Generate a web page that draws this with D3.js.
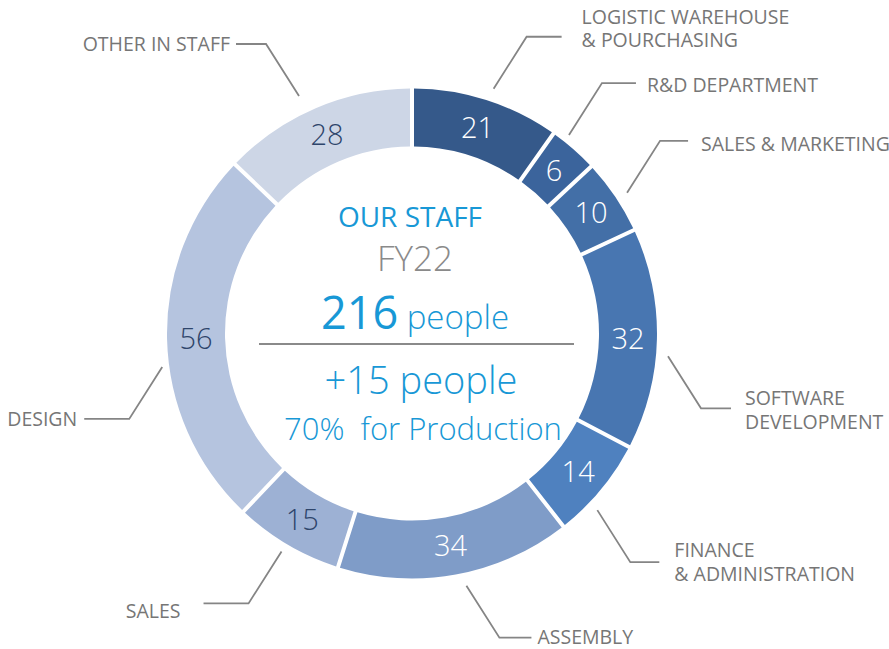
<!DOCTYPE html>
<html>
<head>
<meta charset="utf-8">
<script src="https://cdn.jsdelivr.net/npm/d3@7"></script>
<style>
  body { margin: 0; background: #fff; }
  svg text { font-family: "Open Sans", "Noto Sans", sans-serif; }
</style>
</head>
<body>
<svg id="chart" width="889" height="649"></svg>
<script>
// Staff by department, FY22 (clockwise from 12 o'clock)
var departments = [
  ["LOGISTIC WAREHOUSE", "& POURCHASING"],
  ["R&D DEPARTMENT"],
  ["SALES & MARKETING"],
  ["SOFTWARE", "DEVELOPMENT"],
  ["FINANCE", "& ADMINISTRATION"],
  ["ASSEMBLY"],
  ["SALES"],
  ["DESIGN"],
  ["OTHER IN STAFF"]
];
var headcount = [21, 6, 10, 32, 14, 34, 15, 56, 28];

var sliceColors = ["#35598a", "#3b649c", "#436fa7", "#4876b1", "#4f81bf",
                   "#7f9cc8", "#9db1d4", "#b5c4df", "#cdd6e6"];
var valueColors = ["#fff", "#fff", "#fff", "#fff", "#fff", "#fff",
                   "#2e456b", "#2e456b", "#2e456b"];

// leader tweaks: angle nudge (deg), start radius, horizontal run, text gap, baseline offset of 1st line
var leaderLayout = [
  {nudge: 0.8,  r: 258, run: 35, gap: 20, dy: -13},
  {nudge: -2.8, r: 253, run: 34, gap: 11, dy: 9},
  {nudge: 0.8,  r: 257, run: 28, gap: 13, dy: 10},
  {nudge: 3.8,  r: 257, run: 30, gap: 14, dy: -3},
  {nudge: 3.9,  r: 256, run: 29, gap: 15, dy: -5},
  {nudge: -1.9, r: 258, run: 32, gap: 6,  dy: 6},
  {nudge: 0.4,  r: 254, run: 45, gap: 23, dy: 15},
  {nudge: -6.2, r: 252, run: 45, gap: 7,  dy: 7},
  {nudge: -2.3, r: 263, run: 30, gap: 6,  dy: 7}
];

var cx = 412, cy = 333.5
var outerR = 245, innerR = 187

var svg = d3.select("#chart")
var g = svg.append("g").attr("transform", "translate(" + cx + "," + cy + ")")

var pie = d3.pie().sort(null).padAngle(0.04)
var arc = d3.arc().innerRadius(innerR).outerRadius(outerR).padRadius(100)

var slices = pie(headcount)

g.selectAll(".slice")
    .data(slices)
    .enter().append("path")
      .attr("class", "slice")
      .attr("d", arc)
      .attr("fill", function(d, i) { return sliceColors[i] })

g.selectAll(".value")
    .data(slices)
    .enter().append("text")
      .attr("class", "value")
      .attr("x", function(d) { return arc.centroid(d)[0] })
      .attr("y", function(d) { return arc.centroid(d)[1] })
      .attr("dy", "0.36em")
      .attr("text-anchor", "middle")
      .style("font-size", "29px")
      .style("font-weight", 300)
      .attr("fill", function(d, i) { return valueColors[i] })
      .text(function(d) { return d.data })

// leader lines + department labels
slices.forEach(function(d, i) {
  var lay = leaderLayout[i]
  var a = (d.startAngle + d.endAngle) / 2 + lay.nudge * Math.PI / 180
  var x0 = Math.sin(a) * lay.r, y0 = -Math.cos(a) * lay.r
  var sx = x0 >= 0 ? 1 : -1, sy = y0 >= 0 ? 1 : -1
  var x1 = x0 + sx * 33, y1 = y0 + sy * 52
  var x2 = x1 + sx * lay.run

  g.append("path")
      .attr("d", d3.line()([[x0, y0], [x1, y1], [x2, y1]]))
      .attr("fill", "none")
      .attr("stroke", "#858585")
      .attr("stroke-width", 1.8)

  var t = g.append("text")
      .attr("x", x2 + sx * lay.gap)
      .attr("y", y1 + lay.dy)
      .attr("text-anchor", sx > 0 ? "start" : "end")
      .attr("fill", "#767676")
      .style("font-size", "19.5px")

  departments[i].forEach(function(line, k) {
    t.append("tspan")
        .attr("x", x2 + sx * lay.gap)
        .attr("dy", k == 0 ? 0 : 23.5)
        .text(line)
  })
})

// centre block
var blue = "#1898d6"
var centre = svg.append("g")

centre.append("text")
    .attr("x", 410).attr("y", 227)
    .attr("text-anchor", "middle")
    .attr("fill", blue)
    .style("font-size", "28px")
    .text("OUR STAFF")

centre.append("text")
    .attr("x", 415).attr("y", 271)
    .attr("text-anchor", "middle")
    .attr("fill", "#8a8a8a")
    .style("font-size", "35px")
    .style("font-weight", 300)
    .text("FY22")

var total = centre.append("text")
    .attr("x", 415).attr("y", 329)
    .attr("text-anchor", "middle")
    .attr("fill", blue)
total.append("tspan").style("font-size", "45px").text(d3.sum(headcount))
total.append("tspan").style("font-size", "33px").style("font-weight", 300).text(" people")

centre.append("line")
    .attr("x1", 259).attr("x2", 574)
    .attr("y1", 344).attr("y2", 344)
    .attr("stroke", "#8a8a8a")
    .attr("stroke-width", 2)

centre.append("text")
    .attr("x", 421).attr("y", 394)
    .attr("text-anchor", "middle")
    .attr("fill", blue)
    .style("font-size", "38px")
    .style("font-weight", 300)
    .text("+15 people")

centre.append("text")
    .attr("x", 423).attr("y", 440)
    .attr("text-anchor", "middle")
    .attr("fill", blue)
    .style("font-size", "31px")
    .style("font-weight", 300)
    .attr("xml:space", "preserve")
    .style("white-space", "pre")
    .text("70%  for Production")
</script>
</body>
</html>
